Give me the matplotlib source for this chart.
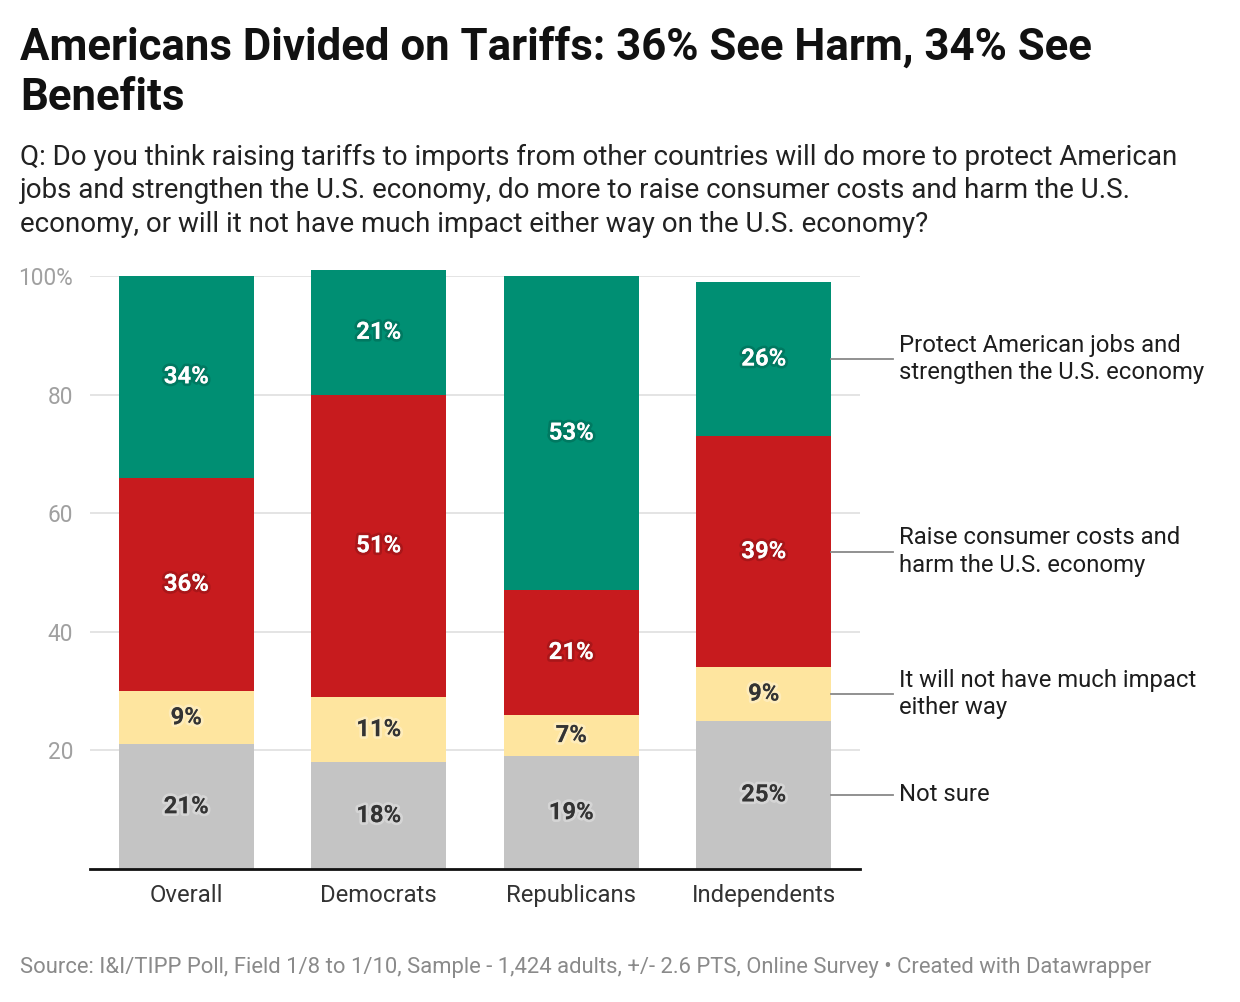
import numpy as np
import matplotlib.pyplot as plt
import matplotlib.patheffects as pe

plt.rcParams['font.family'] = ['Roboto', 'DejaVu Sans']

# data
groups = ["Overall", "Democrats", "Republicans", "Independents"]
not_sure = [21, 18, 19, 25]
no_impact = [9, 11, 7, 9]
raise_costs = [36, 51, 21, 39]
protect = [34, 21, 53, 26]

series_names = ["Not sure", "It will not have much impact\neither way",
                "Raise consumer costs and\nharm the U.S. economy",
                "Protect American jobs and\nstrengthen the U.S. economy"]
series = [not_sure, no_impact, raise_costs, protect]
colors = ["#c4c4c4", "#fee59f", "#c71b1e", "#008f73"]
text_cols = ["#333333", "#333333", "#ffffff", "#ffffff"]

W, H = 1240, 1002
fig = plt.figure(figsize=(W / 100, H / 100), dpi=100)
ax = fig.add_axes([90 / W, 1 - 869 / H, 770 / W, (869 - 276) / H])

x = np.arange(len(groups))
bottom = np.zeros(len(groups))
for vals, col, tcol in zip(series, colors, text_cols):
    vals = np.array(vals, dtype=float)
    ax.bar(x, vals, bottom=bottom, width=0.70, color=col, zorder=2, clip_on=False)
    for xi, b, v in zip(x, bottom, vals):
        if tcol == "#ffffff":
            eff = [pe.withStroke(linewidth=4, foreground=(0, 0, 0, 0.15))]
        else:
            eff = [pe.withStroke(linewidth=4, foreground=(1, 1, 1, 0.3))]
        ax.text(xi, b + v / 2, f"{int(v)}%", ha="center", va="center",
                fontsize=17.2, fontweight="bold", color=tcol, zorder=4,
                path_effects=eff)
    bottom += vals

# connector lines + labels for the last bar
last = len(groups) - 1
cum = 0
for name, vals in zip(series_names, series):
    mid = cum + vals[last] / 2
    cum += vals[last]
    ax.plot([last + 0.35, last + 0.67], [mid, mid], color="#888888", lw=1.3,
            clip_on=False, zorder=3)
    ax.text(last + 0.70, mid, name, ha="left", va="center", fontsize=17.2,
            color="#1d1d1d", linespacing=1.25)

ax.set_xlim(-0.5, 3.5)
ax.set_ylim(0, 100)
ax.set_yticks([20, 40, 60, 80, 100])
ax.set_yticklabels(["20", "40", "60", "80", "100%"])
ax.yaxis.grid(True, color="#e2e2e2", lw=1.3, zorder=0)
ax.tick_params(axis="y", length=0, pad=12, labelsize=16.3, labelcolor="#a0a0a0")
ax.set_xticks(x)
ax.set_xticklabels(groups)
ax.tick_params(axis="x", length=0, pad=11, labelsize=17.2, labelcolor="#333333")
for s in ["top", "right", "left"]:
    ax.spines[s].set_visible(False)
ax.spines["bottom"].set_color("#111111")
ax.spines["bottom"].set_linewidth(2)
ax.spines["bottom"].set_zorder(5)

fig.text(20 / W, 1 - 26 / H, "Americans Divided on Tariffs: 36% See Harm, 34% See\nBenefits",
         ha="left", va="top", fontsize=31.5, fontweight="bold", color="#111111",
         linespacing=1.25)
fig.text(20 / W, 1 - 144 / H,
         "Q: Do you think raising tariffs to imports from other countries will do more to protect American\n"
         "jobs and strengthen the U.S. economy, do more to raise consumer costs and harm the U.S.\n"
         "economy, or will it not have much impact either way on the U.S. economy?",
         ha="left", va="top", fontsize=20, color="#222222", linespacing=1.3)
fig.text(20 / W, 1 - 967 / H,
         "Source: I&I/TIPP Poll, Field 1/8 to 1/10, Sample - 1,424 adults, +/- 2.6 PTS, Online Survey \u2022 Created with Datawrapper",
         ha="left", va="center", fontsize=15.8, color="#8a8a8a")

fig.savefig("out.png", dpi=100, facecolor="white")
